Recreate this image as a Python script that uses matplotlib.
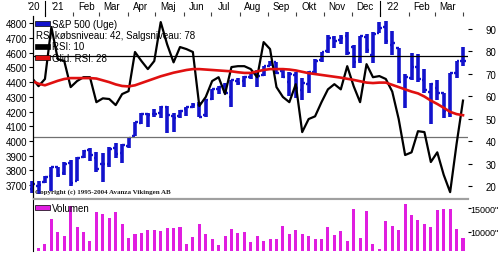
import matplotlib
matplotlib.use("Agg")
import matplotlib.pyplot as plt
import matplotlib.dates as mdates
from matplotlib.patches import Rectangle
import pandas as pd

plt.rcParams["font.family"] = ["Liberation Sans", "DejaVu Sans"]

# ugentlige data, S&P 500 (uge 14.12.2020 - 28.03.2022)
weeks = pd.date_range("2020-12-18", periods=68, freq="7D")
opens = [3675, 3693, 3723, 3764, 3824, 3781, 3851, 3731, 3892, 3939, 3885, 3842, 3845, 3949, 3916, 3969,
         4034, 4124, 4186, 4186, 4191, 4228, 4169, 4170, 4217, 4230, 4248, 4174, 4285, 4356, 4372, 4296,
         4409, 4407, 4437, 4461, 4450, 4513, 4535, 4474, 4403, 4450, 4348, 4385, 4472, 4554, 4610, 4702,
         4689, 4712, 4640, 4548, 4710, 4587, 4733, 4778, 4656, 4632, 4356, 4431, 4505, 4413, 4332, 4363,
         4327, 4188, 4462, 4541]
highs = [3726, 3726, 3760, 3826, 3823, 3860, 3871, 3889, 3938, 3950, 3928, 3915, 3960, 3983, 3978, 4021,
         4130, 4191, 4192, 4218, 4238, 4238, 4188, 4213, 4234, 4255, 4262, 4287, 4356, 4372, 4394, 4415,
         4430, 4440, 4468, 4480, 4513, 4546, 4536, 4486, 4466, 4466, 4429, 4476, 4560, 4608, 4718, 4714,
         4718, 4744, 4652, 4713, 4731, 4740, 4809, 4819, 4749, 4632, 4454, 4595, 4590, 4490, 4395, 4416,
         4327, 4465, 4546, 4637]
lows = [3645, 3636, 3715, 3662, 3753, 3766, 3694, 3725, 3885, 3865, 3789, 3723, 3820, 3886, 3853, 3950,
        4034, 4118, 4098, 4165, 4157, 4056, 4062, 4155, 4167, 4222, 4164, 4166, 4280, 4320, 4327, 4234,
        4379, 4368, 4424, 4368, 4442, 4508, 4458, 4428, 4306, 4289, 4279, 4329, 4448, 4537, 4595, 4630,
        4660, 4585, 4495, 4532, 4600, 4531, 4733, 4662, 4582, 4395, 4222, 4414, 4401, 4328, 4115, 4279,
        4157, 4161, 4425, 4507]
closes = [3709, 3703, 3756, 3825, 3768, 3841, 3714, 3887, 3935, 3907, 3811, 3842, 3943, 3913, 3975, 4020,
          4129, 4185, 4180, 4181, 4233, 4174, 4156, 4204, 4230, 4247, 4166, 4281, 4352, 4370, 4327, 4412,
          4395, 4437, 4468, 4442, 4509, 4535, 4459, 4433, 4455, 4357, 4391, 4471, 4545, 4605, 4698, 4683,
          4698, 4595, 4538, 4712, 4621, 4726, 4766, 4677, 4663, 4398, 4432, 4501, 4419, 4349, 4385, 4329,
          4204, 4463, 4543, 4546]
rsi = [68, 64.4, 67.6, 90.7, 76.4, 75.6, 64, 66.7, 68.4, 68.4, 57.3, 59, 58.7, 56, 60.9, 62.2,
       79.6, 75.6, 72, 75.6, 92.9, 83, 75, 81.8, 80.9, 79.6, 55.6, 59.6, 66.7, 68.4, 60.9, 72.9,
       73.3, 73.3, 72, 68.4, 84, 80.9, 64, 59.6, 57.3, 65.3, 44, 49.8, 51, 57.3, 63, 65.3,
       63, 73.3, 64.4, 57.3, 74.2, 68.4, 68.9, 67.6, 62, 49.8, 33.8, 35, 44.4, 44, 30.7, 35,
       25, 17.3, 38.7, 58]
rsi_glid = [66.7, 65.5, 64.8, 65.8, 66.8, 67.6, 68, 68, 68, 68, 67.8, 67, 66.2, 65.2, 64.5, 64.3,
            64.8, 65.8, 66.8, 67.8, 68.8, 69.6, 70.4, 71, 71.6, 72, 72, 71.8, 71.6, 71.4, 71.2, 71,
            70.6, 70.3, 70.3, 71, 71.6, 72, 72, 72, 71.8, 71.4, 70.8, 70.2, 69.8, 69.4, 69, 68.6,
            68.2, 67.7, 67.2, 66.6, 66, 65.8, 66, 66, 65, 64, 63, 62, 61.2, 59.8, 58, 56.5,
            54.8, 53, 52, 51.5]
volumen = [13330, 6590, 7390, 12760, 10000, 8990, 15370, 11020, 10000, 8040, 14200, 13770, 12900, 14200,
           11740, 8630, 9570, 9710, 10280, 10280, 10220, 10800, 10800, 11020, 7390, 8840, 11590, 9570,
           8410, 7170, 8990, 10590, 9710, 9850, 7900, 8990, 8110, 8480, 8410, 11300, 9570, 10430, 9570,
           9130, 8480, 8410, 11020, 9350, 10070, 8040, 14930, 8630, 14420, 7390, 6240, 12240, 11300,
           10280, 15870, 13550, 12460, 11590, 11020, 14640, 14780, 14780, 10590, 8630]
koeb, salg = 42, 78
maaneder = ["'20", "'21", "Feb", "Mar", "Apr", "Maj", "Jun", "Jul", "Aug", "Sep", "Okt", "Nov", "Dec",
            "'22", "Feb", "Mar"]

blaa = "#1212cc"
magenta = "#e01ee0"

x = mdates.date2num(weeks)
fig = plt.figure(figsize=(5, 2.55), dpi=100)
ax = fig.add_axes([0.066, 0.2196, 0.869, 0.7137])
ax2 = ax.twinx()
axv = fig.add_axes([0.066, 0.0118, 0.869, 0.204], sharex=ax)

# kursbarer
ax.vlines(x, lows, highs, color=blaa, lw=2.6, clip_on=False)
ax.hlines(opens, x - 2.8, x, color=blaa, lw=1.7, clip_on=False)
ax.hlines(closes, x, x + 2.8, color=blaa, lw=1.7, clip_on=False)
ax.set_ylim(3612, 4850)
ax.set_yticks(range(3700, 4801, 100))
ax.tick_params(axis="y", labelsize=7, length=3, pad=1)

# RSI
ax2.axhline(salg, color="black", lw=0.9)
ax2.axhline(koeb, color="#707070", lw=0.9)
ax2.plot(x, rsi, color="black", lw=1.6)
ax2.plot(x, rsi_glid, color="#e01010", lw=1.9)
ax2.set_ylim(14.7, 95.6)
ax2.set_yticks(range(20, 91, 10))
ax2.tick_params(axis="y", labelsize=7, length=3, pad=10)

for a in (ax, ax2):
    a.spines["top"].set_visible(False)
    a.spines["right"].set_visible(False)
    a.spines["bottom"].set_color("#a0a0a0")

ax.set_xlim(x[0] + 1, x[0] + 7 * 67.7)
# maanedsstreger oeverst
ax.xaxis.tick_top()
starts = pd.date_range("2021-01-01", "2022-04-01", freq="MS")
ax.set_xticks(mdates.date2num(starts))
ax.set_xticklabels([])
ax.tick_params(axis="x", length=3, color="#404040")
mid = [mdates.date2num(pd.Timestamp("2020-12-20"))] + \
      [mdates.date2num(d + pd.Timedelta(days=14)) for d in starts[:-1]]
for m, lab in zip(mid, maaneder):
    ax.text(m, 1.03, lab, transform=ax.get_xaxis_transform(), ha="center", va="bottom",
            fontsize=7, clip_on=False)
for d in ["2021-01-01", "2022-01-01"]:
    ax.plot([mdates.date2num(pd.Timestamp(d))] * 2, [1.0, 1.08], transform=ax.get_xaxis_transform(),
            color="black", lw=0.8, clip_on=False)

# legende
rows = [(blaa, "S&P 500 (Uge)"), (None, "RSI købsniveau: %d, Salgsniveau: %d" % (koeb, salg)),
        ("black", "RSI: 10"), ("#e01010", "Glid. RSI: 28")]
for k, (c, t) in enumerate(rows):
    yy = 0.958 - k * 0.062
    if c:
        ax2.add_patch(Rectangle((0.005, yy - 0.014), 0.033, 0.028, transform=ax2.transAxes,
                                facecolor=c, edgecolor="black", lw=0.5, zorder=5))
        ax2.text(0.043, yy, t, transform=ax2.transAxes, fontsize=7, va="center", zorder=5)
    else:
        ax2.text(0.007, yy, t, transform=ax2.transAxes, fontsize=7, va="center", zorder=5)
ax2.text(0.005, 0.02, "Copyright (c) 1995-2004 Avanza Vikingen AB", transform=ax2.transAxes,
         fontsize=5, family="Liberation Serif", fontweight="bold", va="bottom", color="#202020")

# volumen
axv.bar(x, volumen, width=3.3, color=magenta)
axv.set_ylim(5900, 16960)
axv.yaxis.tick_right()
axv.set_yticks([10000, 15000])
axv.set_yticklabels(['10000"', '15000"'])
axv.tick_params(axis="y", labelsize=6.5, length=2, pad=0)
axv.tick_params(axis="x", bottom=False, top=False, labelbottom=False, labeltop=False)
for s in ["right", "bottom"]:
    axv.spines[s].set_visible(False)
axv.spines["top"].set_color("#a0a0a0")
axv.add_patch(Rectangle((0.005, 0.78), 0.033, 0.1, transform=axv.transAxes,
                        facecolor=magenta, edgecolor="black", lw=0.5))
axv.text(0.043, 0.83, "Volumen", transform=axv.transAxes, fontsize=7, va="center")

fig.savefig("out.png", dpi=100)
